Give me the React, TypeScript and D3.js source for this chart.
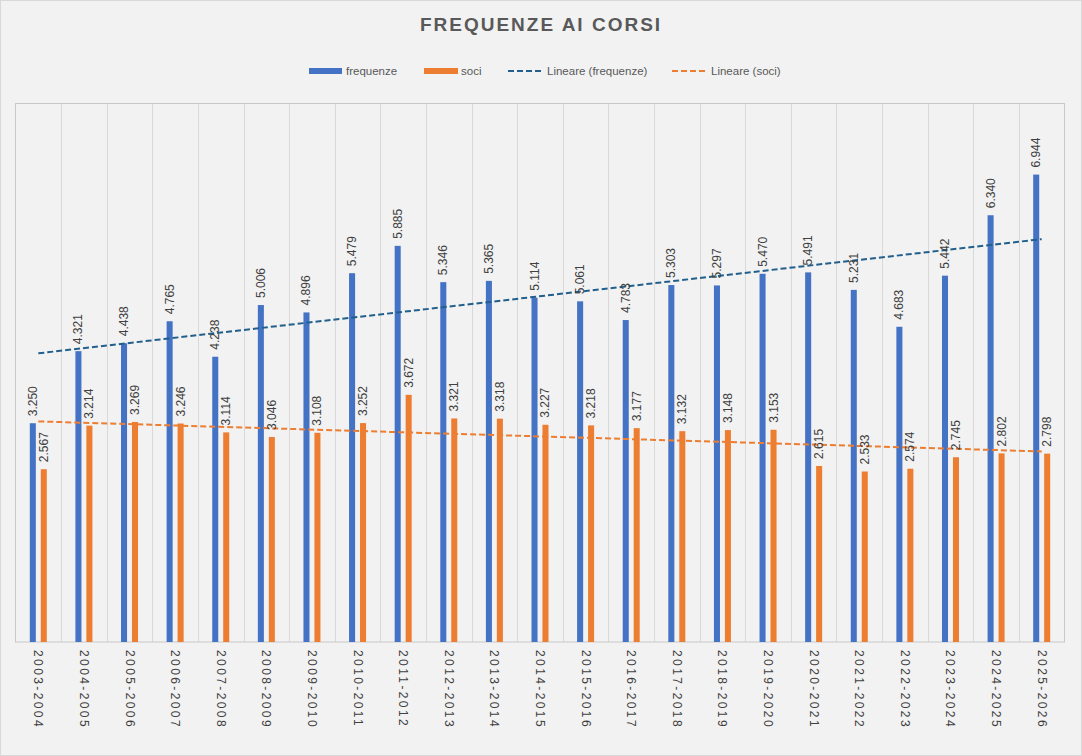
import * as d3 from 'd3';
import { useEffect, useRef } from 'react';

const categories = [
  '2003-2004', '2004-2005', '2005-2006', '2006-2007', '2007-2008', '2008-2009',
  '2009-2010', '2010-2011', '2011-2012', '2012-2013', '2013-2014', '2014-2015',
  '2015-2016', '2016-2017', '2017-2018', '2018-2019', '2019-2020', '2020-2021',
  '2021-2022', '2022-2023', '2023-2024', '2024-2025', '2025-2026',
];

const frequenze = [
  3250, 4321, 4438, 4765, 4238, 5006, 4896, 5479, 5885, 5346, 5365, 5114,
  5061, 4783, 5303, 5297, 5470, 5491, 5231, 4683, 5442, 6340, 6944,
];

const soci = [
  2567, 3214, 3269, 3246, 3114, 3046, 3108, 3252, 3672, 3321, 3318, 3227,
  3218, 3177, 3132, 3148, 3153, 2615, 2533, 2574, 2745, 2802, 2798,
];

const seriesNames = ['frequenze', 'soci'];
const legendLabels = ['frequenze', 'soci', 'Lineare (frequenze)', 'Lineare (soci)'];

const WIDTH = 1082;
const HEIGHT = 756;
const PLOT = { left: 15.5, right: 1064.5, top: 103.5, bottom: 642 };

const BLUE = '#4472c4';
const ORANGE = '#ed7d31';
const TREND_BLUE = '#215f8c';
const TEXT = '#404040';
const FONT = '"Liberation Sans", Arial, sans-serif';

const itLocale = d3.formatLocale({
  decimal: ',',
  thousands: '.',
  grouping: [3],
  currency: ['€', ''],
});
const formatValue = itLocale.format(',d');

// least squares fit, same as the Excel linear trendline
function linearFit(values: number[]) {
  const xs = values.map((_, i) => i + 1);
  const meanX = d3.mean(xs)!;
  const meanY = d3.mean(values)!;
  let num = 0;
  let den = 0;
  xs.forEach((x, i) => {
    num += (x - meanX) * (values[i] - meanY);
    den += (x - meanX) ** 2;
  });
  const slope = num / den;
  const intercept = meanY - slope * meanX;
  return xs.map((x) => intercept + slope * x);
}

export default function App() {
  const svgRef = useRef<SVGSVGElement | null>(null);

  useEffect(() => {
    if (!svgRef.current) return;
    const svg = d3.select(svgRef.current);
    svg.selectAll('*').remove();

    svg
      .append('rect')
      .attr('x', 0.5)
      .attr('y', 0.5)
      .attr('width', WIDTH - 1)
      .attr('height', HEIGHT - 1)
      .attr('fill', '#f2f2f2')
      .attr('stroke', '#d9d9d9');

    const x = d3
      .scaleBand<string>()
      .domain(categories)
      .range([PLOT.left, PLOT.right])
      .padding(0);

    const inner = d3
      .scaleBand<string>()
      .domain(seriesNames)
      .range([-8.5, 8.5])
      .paddingInner(0.45);

    const y = d3.scaleLinear().domain([0, 8000]).range([PLOT.bottom, PLOT.top]);

    // vertical gridlines at category boundaries
    const grid = svg.append('g');
    categories.forEach((c, i) => {
      if (i === 0) return;
      const gx = Math.round(x(c)!) + 0.5;
      grid
        .append('line')
        .attr('x1', gx)
        .attr('x2', gx)
        .attr('y1', PLOT.top)
        .attr('y2', PLOT.bottom)
        .attr('stroke', '#d9d9d9')
        .attr('stroke-width', 1);
    });

    svg
      .append('rect')
      .attr('x', PLOT.left)
      .attr('y', PLOT.top)
      .attr('width', PLOT.right - PLOT.left)
      .attr('height', PLOT.bottom - PLOT.top)
      .attr('fill', 'none')
      .attr('stroke', '#c8c8c8')
      .attr('stroke-width', 1);

    const series = [
      { name: 'frequenze', values: frequenze, color: BLUE },
      { name: 'soci', values: soci, color: ORANGE },
    ];

    const center = (c: string) => x(c)! + x.bandwidth() / 2;

    series.forEach((s) => {
      const g = svg.append('g');
      g.selectAll('rect')
        .data(s.values)
        .join('rect')
        .attr('x', (_, i) => center(categories[i]) + inner(s.name)!)
        .attr('y', (d) => y(d))
        .attr('width', inner.bandwidth())
        .attr('height', (d) => PLOT.bottom - y(d))
        .attr('fill', s.color);
    });

    // trendlines from first to last category
    const trendSeries = [
      { values: frequenze, color: TREND_BLUE },
      { values: soci, color: ORANGE },
    ];
    const trendLine = d3
      .line<[string, number]>()
      .x((d) => center(d[0]))
      .y((d) => y(d[1]));
    trendSeries.forEach((t) => {
      const fit = linearFit(t.values);
      const last = categories.length - 1;
      svg
        .append('path')
        .attr(
          'd',
          trendLine([
            [categories[0], fit[0]],
            [categories[last], fit[last]],
          ]) ?? '',
        )
        .attr('fill', 'none')
        .attr('stroke', t.color)
        .attr('stroke-width', 2)
        .attr('stroke-dasharray', '6,3');
    });

    // data labels, rotated
    series.forEach((s) => {
      const g = svg.append('g');
      s.values.forEach((v, i) => {
        const lx = center(categories[i]) + inner(s.name)! + inner.bandwidth() / 2;
        const ly = y(v) - 7;
        g.append('text')
          .attr('transform', `translate(${lx},${ly}) rotate(-90)`)
          .attr('dominant-baseline', 'central')
          .attr('font-family', FONT)
          .attr('font-size', 12)
          .attr('fill', TEXT)
          .text(formatValue(v));
      });
    });

    // category labels
    const axisG = svg.append('g');
    categories.forEach((c) => {
      axisG
        .append('text')
        .attr('transform', `translate(${center(c)},${PLOT.bottom + 8}) rotate(90)`)
        .attr('dominant-baseline', 'central')
        .attr('font-family', FONT)
        .attr('font-size', 12)
        .attr('letter-spacing', 2.4)
        .attr('fill', TEXT)
        .text(c);
    });

    // title
    svg
      .append('text')
      .attr('x', WIDTH / 2)
      .attr('y', 31)
      .attr('text-anchor', 'middle')
      .attr('font-family', FONT)
      .attr('font-size', 19)
      .attr('font-weight', 'bold')
      .attr('letter-spacing', 2)
      .attr('fill', '#595959')
      .text('FREQUENZE AI CORSI');

    // legend
    const legend = svg.append('g').attr('font-family', FONT).attr('font-size', 11.5);
    const legendX = [309, 424, 508, 672];
    const legendY = 71;
    legendLabels.forEach((label, i) => {
      const lx = legendX[i];
      if (i < 2) {
        legend
          .append('rect')
          .attr('x', lx)
          .attr('y', legendY - 3)
          .attr('width', i === 0 ? 33 : 34)
          .attr('height', 6)
          .attr('fill', i === 0 ? BLUE : ORANGE);
      } else {
        legend
          .append('line')
          .attr('x1', lx)
          .attr('x2', lx + 36)
          .attr('y1', legendY)
          .attr('y2', legendY)
          .attr('stroke', i === 2 ? TREND_BLUE : ORANGE)
          .attr('stroke-width', 2)
          .attr('stroke-dasharray', '6,3');
      }
      legend
        .append('text')
        .attr('x', lx + (i < 2 ? 37 : 39))
        .attr('y', legendY)
        .attr('dominant-baseline', 'central')
        .attr('fill', '#595959')
        .text(label);
    });
  }, []);

  return (
    <div style={{ position: 'fixed', left: 0, top: 0 }}>
      <svg ref={svgRef} width={WIDTH} height={HEIGHT} style={{ display: 'block' }} />
    </div>
  );
}
